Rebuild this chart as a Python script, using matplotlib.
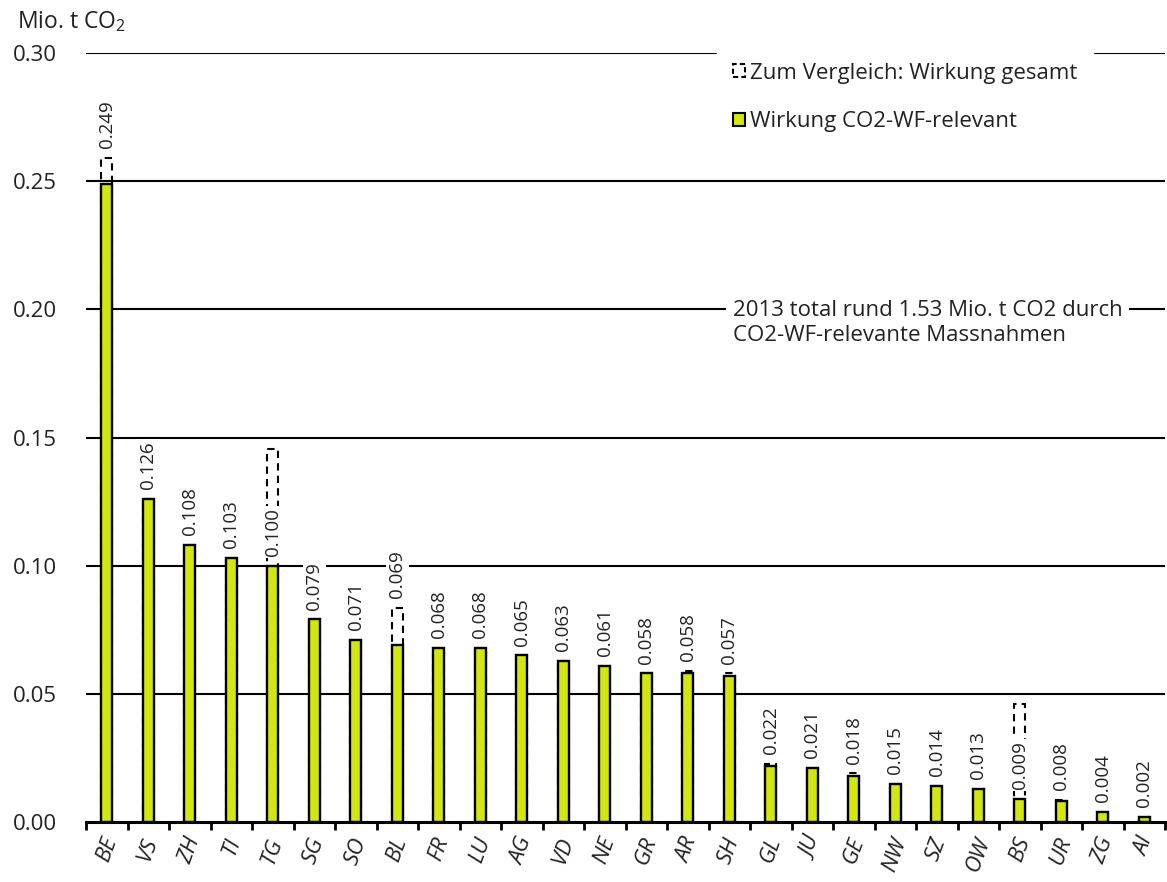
import matplotlib
matplotlib.use("Agg")
import matplotlib.pyplot as plt
from matplotlib.patches import Patch
import numpy as np

plt.rcParams['font.family'] = ['Open Sans', 'DejaVu Sans']

cantons = ["BE", "VS", "ZH", "TI", "TG", "SG", "SO", "BL", "FR", "LU", "AG", "VD", "NE",
           "GR", "AR", "SH", "GL", "JU", "GE", "NW", "SZ", "OW", "BS", "UR", "ZG", "AI"]
wirkung_relevant = [0.249, 0.126, 0.108, 0.103, 0.100, 0.079, 0.071, 0.069, 0.068, 0.068,
                    0.065, 0.063, 0.061, 0.058, 0.058, 0.057, 0.022, 0.021, 0.018, 0.015,
                    0.014, 0.013, 0.009, 0.008, 0.004, 0.002]
wirkung_gesamt = [0.259, 0.126, 0.108, 0.103, 0.1455, 0.079, 0.071, 0.0835, 0.068, 0.068,
                  0.065, 0.063, 0.061, 0.058, 0.059, 0.058, 0.0228, 0.021, 0.019, 0.015,
                  0.014, 0.013, 0.046, 0.0085, 0.004, 0.002]
yticks = [0.00, 0.05, 0.10, 0.15, 0.20, 0.25, 0.30]

green = '#d2e60f'
txt = '#222222'

W, H = 1167, 882
fig = plt.figure(figsize=(W / 100, H / 100), dpi=100)
ax = fig.add_axes([86 / W, 1 - 822 / H, 1079 / W, 769 / H])

x = np.arange(len(cantons))
bw = 0.27

for y in yticks[1:]:
    ax.axhline(y, color='black', lw=1.5, zorder=0.5)

# dashed comparison bars (total)
ax.bar(x, wirkung_gesamt, width=bw, facecolor='none', edgecolor='black',
       linestyle=(0, (3.5, 2.5)), linewidth=1.5, zorder=2)
# relevant bars
ax.bar(x, wirkung_relevant, width=bw, facecolor=green, edgecolor='black',
       linewidth=1.7, zorder=3)

for i, (v, t) in enumerate(zip(wirkung_relevant, wirkung_gesamt)):
    base = t if (t - v) < 0.02 else v
    ax.annotate(f"{v:.3f}", xy=(i, base), xytext=(0, 7), textcoords='offset points',
                rotation=90, ha='center', va='bottom', fontsize=13.5, color=txt,
                bbox=dict(boxstyle='square,pad=0.12', facecolor='white', edgecolor='none'),
                zorder=4)

ax.set_xlim(-0.5, len(cantons) - 0.5)
ax.set_ylim(0, 0.30)

for s in ['top', 'right', 'left']:
    ax.spines[s].set_visible(False)
ax.spines['bottom'].set_linewidth(2.2)
ax.spines['bottom'].set_zorder(5)

ax.set_yticks(yticks)
ax.set_yticklabels([f"{v:.2f}" for v in yticks], fontsize=16, color=txt)
ax.tick_params(axis='y', length=0, pad=21)

ax.set_xticks(x)
ax.set_xticklabels(cantons, fontsize=16, style='italic', rotation=70, ha='center',
                   color=txt)
ax.tick_params(axis='x', which='major', length=0, pad=9)
ax.set_xticks(np.arange(-0.5, len(cantons), 1.0), minor=True)
ax.tick_params(axis='x', which='minor', length=6, width=2, direction='out')

fig.text(17 / W, 1 - 22 / H, 'Mio. t CO$_\\mathregular{2}$', fontsize=16.5,
         ha='left', va='center', color=txt)

ax.annotate("2013 total rund 1.53 Mio. t CO2 durch\nCO2-WF-relevante Massnahmen",
            xy=((733 - 86) / 1079, 0.20), xycoords=ax.get_yaxis_transform(),
            xytext=(0, 7), textcoords='offset points',
            fontsize=16, color=txt, ha='left', va='top', linespacing=1.3,
            bbox=dict(boxstyle='square,pad=0.3', facecolor='white', edgecolor='none'),
            zorder=4)

handles = [Patch(facecolor='none', edgecolor='black', linestyle=(0, (2.5, 1.5)), linewidth=1.5),
           Patch(facecolor=green, edgecolor='black', linewidth=1.5)]
leg = ax.legend(handles, ["Zum Vergleich: Wirkung gesamt", "Wirkung CO2-WF-relevant"],
                loc='upper left', bbox_to_anchor=((717 - 86) / 1079, 1 + 6 / 769),
                frameon=True, fancybox=False, facecolor='white', edgecolor='white',
                framealpha=1, fontsize=16, handlelength=0.55, handleheight=0.55,
                handletextpad=0.25, labelspacing=1.24, borderpad=0.7, borderaxespad=0)
for t in leg.get_texts():
    t.set_color(txt)
leg.set_zorder(6)

fig.savefig('out.png', dpi=100)
